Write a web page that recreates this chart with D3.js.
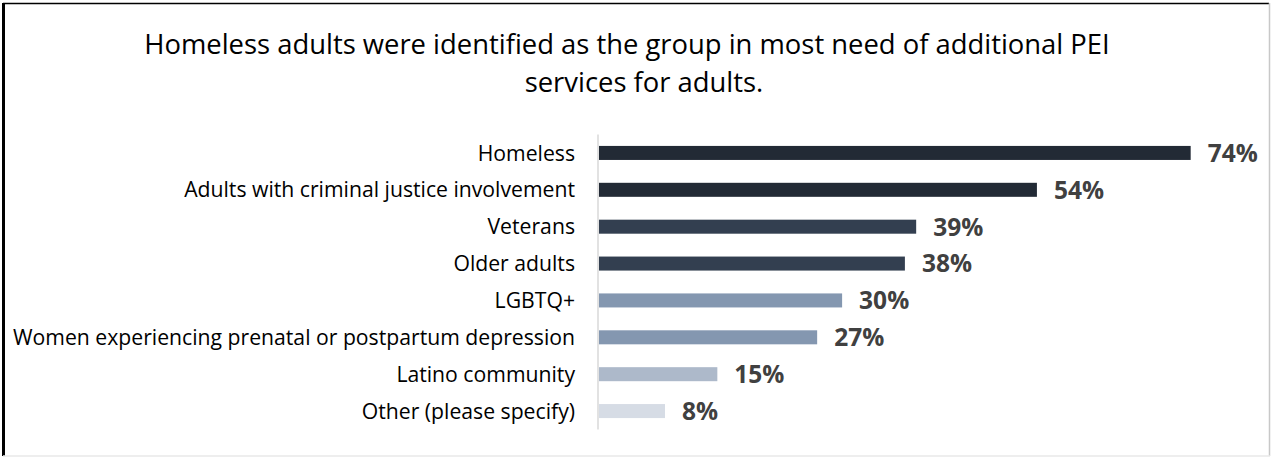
<!DOCTYPE html>
<html>
<head>
<meta charset="utf-8">
<script src="https://cdn.jsdelivr.net/npm/d3@7"></script>
<style>
  body { margin: 0; background: #fff; }
  text { font-family: "Open Sans", "Noto Sans", sans-serif; }
</style>
</head>
<body>
<div id="my_dataviz"></div>
<script>
// data
const categories = [
  "Homeless",
  "Adults with criminal justice involvement",
  "Veterans",
  "Older adults",
  "LGBTQ+",
  "Women experiencing prenatal or postpartum depression",
  "Latino community",
  "Other (please specify)"
];
const values = [73.5, 54.4, 39.4, 38.0, 30.2, 27.1, 14.7, 8.2];
const barColors = ["#222a35", "#222a35", "#333f50", "#333f50", "#8497b0", "#8497b0", "#adb9ca", "#d6dce5"];
const titleLines = [
  "Homeless adults were identified as the group in most need of additional PEI",
  "services for adults."
];

const data = categories.map((c, i) => ({name: c, value: values[i], color: barColors[i]}));

const W = 1271, H = 457;

const svg = d3.select("#my_dataviz")
  .append("svg")
    .attr("width", W)
    .attr("height", H);

// frame
svg.append("line").attr("x1", 3.5).attr("x2", 3.5).attr("y1", 3).attr("y2", 456)
  .attr("stroke", "#000").attr("stroke-width", 3);
svg.append("line").attr("x1", 3).attr("x2", 1269).attr("y1", 3.5).attr("y2", 3.5)
  .attr("stroke", "#000").attr("stroke-width", 1.5);
svg.append("line").attr("x1", 1269.5).attr("x2", 1269.5).attr("y1", 3).attr("y2", 456)
  .attr("stroke", "#c8c8c8").attr("stroke-width", 1.5);
svg.append("line").attr("x1", 3).attr("x2", 1270).attr("y1", 456).attr("y2", 456)
  .attr("stroke", "#e8e8e8").attr("stroke-width", 1.5);

// title
svg.append("text")
  .attr("x", 627).attr("y", 54)
  .attr("text-anchor", "middle")
  .style("font-size", "27.4px")
  .style("fill", "#000")
  .text(titleLines[0]);
svg.append("text")
  .attr("x", 644).attr("y", 92)
  .attr("text-anchor", "middle")
  .style("font-size", "27.4px")
  .style("fill", "#000")
  .text(titleLines[1]);

// scales
const x = d3.scaleLinear()
  .domain([0, 100])
  .range([599, 1404]);

const y = d3.scaleBand()
  .domain(categories)
  .range([134.5, 429.5])
  .paddingInner(0.62)
  .paddingOuter(0.31);

// Y axis (line only, labels drawn separately)
const yAxis = svg.append("g")
  .attr("transform", `translate(598, 0)`)
  .call(d3.axisLeft(y).tickSize(0).tickFormat(""));
yAxis.select(".domain")
  .attr("d", `M0,${y.range()[0]}V${y.range()[1]}`)
  .attr("stroke", "#d9d9d9")
  .attr("stroke-width", 1.5);

// category labels
svg.selectAll("mylabel")
  .data(data)
  .enter()
  .append("text")
    .attr("x", 575)
    .attr("y", d => y(d.name) + y.bandwidth() / 2)
    .attr("dy", "0.36em")
    .attr("text-anchor", "end")
    .style("font-size", "21.2px")
    .style("fill", "#000")
    .text(d => d.name);

// bars
svg.selectAll("mybar")
  .data(data)
  .enter()
  .append("rect")
    .attr("x", x(0))
    .attr("y", d => y(d.name))
    .attr("width", d => x(d.value) - x(0))
    .attr("height", y.bandwidth())
    .attr("fill", d => d.color);

// value labels
svg.selectAll("myvalue")
  .data(data)
  .enter()
  .append("text")
    .attr("x", d => x(d.value) + 17)
    .attr("y", d => y(d.name) + y.bandwidth() / 2)
    .attr("dy", "0.36em")
    .style("font-size", "24.5px")
    .style("font-weight", "bold")
    .style("fill", "#404040")
    .text(d => Math.round(d.value) + "%");
</script>
</body>
</html>
